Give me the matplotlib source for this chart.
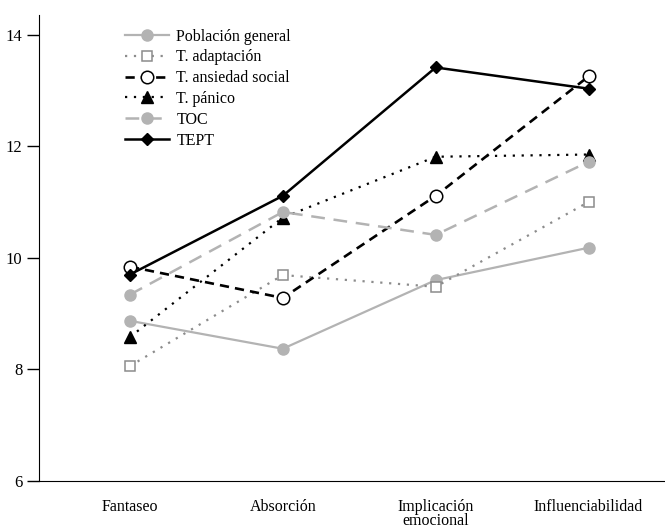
import matplotlib.pyplot as plt
import numpy as np

categorias = ['Fantaseo', 'Absorción', 'Implicación\nemocional', 'Influenciabilidad']

poblacion_general = [8.87, 8.37, 9.60, 10.18]
t_adaptacion = [8.06, 9.69, 9.48, 11.00]
t_ansiedad_social = [9.84, 9.28, 11.11, 13.25]
t_panico = [8.58, 10.72, 11.81, 11.85]
toc = [9.34, 10.82, 10.41, 11.72]
tept = [9.70, 11.11, 13.41, 13.03]

plt.rcParams['font.family'] = ['Liberation Serif', 'DejaVu Serif']

fig = plt.figure(figsize=(6.65, 5.3), dpi=100)
ax = fig.add_axes([39/665, 1 - 481/530, 1 - 39/665, (481 - 15)/530])

x = np.arange(len(categorias))
gris = '#b3b3b3'
gris_osc = '#8c8c8c'
lw = 1.6

ax.plot(x, poblacion_general, color=gris, lw=lw, marker='o', ms=8,
        mfc=gris, mec=gris, label='Población general')
ax.plot(x, t_adaptacion, color=gris_osc, lw=lw, ls=(0, (1, 3)), marker='s', ms=6.5,
        mfc='white', mec=gris_osc, mew=1.1, label='T. adaptación')
ax.plot(x, t_ansiedad_social, color='black', lw=lw + 0.3, ls=(0, (3.5, 2.3)), marker='o', ms=9,
        mfc='white', mec='black', mew=1.1, label='T. ansiedad social')
ax.plot(x, t_panico, color='black', lw=lw, ls=(0, (1, 3)), marker='^', ms=8,
        mfc='black', mec='black', label='T. pánico')
ax.plot(x, toc, color=gris, lw=lw + 0.2, ls=(0, (5.5, 3.5)), marker='o', ms=8,
        mfc=gris, mec=gris, label='TOC')
ax.plot(x, tept, color='black', lw=lw + 0.2, marker='D', ms=6.5,
        mfc='black', mec='black', label='TEPT')

ax.set_xlim(-0.595, 3.5)
ax.set_ylim(6, 14.35)
ax.set_yticks([6, 8, 10, 12, 14])
ax.set_xticks(x)
ax.set_xticklabels(categorias, fontsize=11.5, va='top', linespacing=0.85)
ax.tick_params(axis='x', length=0, pad=13)
ax.tick_params(axis='y', length=9, width=1, labelsize=12, pad=3)

for s in ['top', 'right']:
    ax.spines[s].set_visible(False)

ax.legend(loc='upper left', bbox_to_anchor=(0.115, 1.0), frameon=False,
          fontsize=11.5, handlelength=2.8, labelspacing=0.3, handletextpad=0.45,
          borderaxespad=0.45)

fig.savefig('out.png', dpi=100)
